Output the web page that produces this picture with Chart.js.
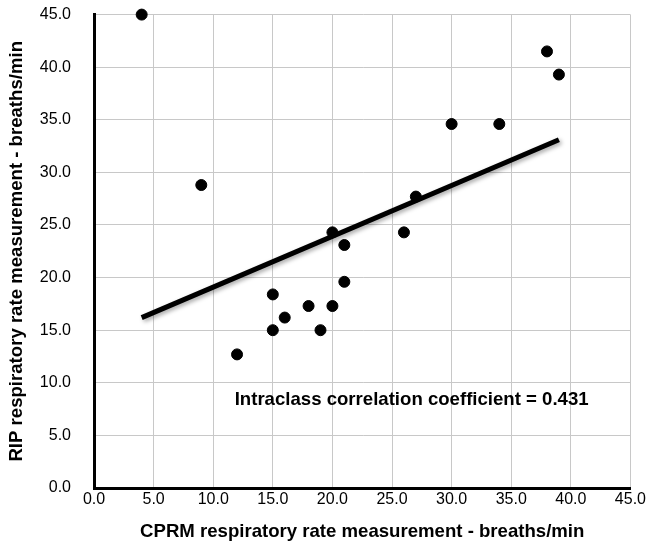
<!DOCTYPE html>
<html>
<head>
<meta charset="utf-8">
<script src="https://cdn.jsdelivr.net/npm/chart.js@4.4.1/dist/chart.umd.min.js"></script>
<style>
  html, body { margin: 0; padding: 0; background: #fff; overflow: hidden; width: 648px; height: 544px; }
  #wrap { position: absolute; left: 0; top: -18px; width: 648px; height: 562px; }
</style>
</head>
<body>
<div id="wrap"><canvas id="icc"></canvas></div>
<script>
// CPRM (x) vs RIP (y), breaths/min
const cprmValues = [4, 9, 12, 15, 15, 16, 18, 19, 20, 20, 21, 21, 26, 27, 30, 34, 38, 39];
const ripValues = [45.0, 28.8, 12.7, 18.4, 15.0, 16.2, 17.3, 15.0, 17.3, 24.3, 23.1, 19.6, 24.3, 27.7, 34.6, 34.6, 41.5, 39.3];
const trendX = [4, 39];
const trendY = [16.2, 33.1];
const axisMin = 0;
const axisMax = 45;
const axisStep = 5;
const annotation = { x: 11.8, y: 8.4, text: 'Intraclass correlation coefficient = 0.431' };

const FONT = '"Liberation Sans", Arial, Helvetica, sans-serif';

const points = cprmValues.map((x, i) => ({ x: x, y: ripValues[i] }));
const trend = trendX.map((x, i) => ({ x: x, y: trendY[i] }));

const shadowLine = {
    id: 'shadowLine',
    beforeDatasetDraw(chart, args) {
        if (args.index !== 1) return;
        const ctx = chart.ctx;
        ctx.save();
        ctx.shadowColor = 'rgba(0,0,0,0.35)';
        ctx.shadowBlur = 4;
        ctx.shadowOffsetX = 2;
        ctx.shadowOffsetY = 2;
    },
    afterDatasetDraw(chart, args) {
        if (args.index !== 1) return;
        chart.ctx.restore();
    }
};

const iccLabel = {
    id: 'iccLabel',
    afterDatasetsDraw(chart) {
        const ctx = chart.ctx;
        const xs = chart.scales.x, ys = chart.scales.y;
        ctx.save();
        ctx.font = 'bold 18.6px ' + FONT;
        ctx.fillStyle = '#000';
        ctx.textAlign = 'left';
        ctx.textBaseline = 'middle';
        ctx.fillText(annotation.text, xs.getPixelForValue(annotation.x), ys.getPixelForValue(annotation.y));
        ctx.restore();
    }
};

const tickFmt = v => Number(v).toFixed(1);

new Chart(document.getElementById('icc').getContext('2d'), {
    type: 'scatter',
    data: {
        datasets: [{
            data: points,
            backgroundColor: '#000',
            borderColor: '#000',
            pointRadius: 5.5,
            pointHoverRadius: 5.5,
            clip: false
        }, {
            type: 'line',
            data: trend,
            borderColor: '#000',
            borderWidth: 5,
            pointRadius: 0,
            fill: false,
            tension: 0
        }]
    },
    options: {
        responsive: true,
        maintainAspectRatio: false,
        animation: false,
        layout: { padding: 0 },
        plugins: { legend: { display: false }, tooltip: { enabled: false } },
        scales: {
            x: {
                type: 'linear',
                min: axisMin,
                max: axisMax,
                afterFit: s => { s.height = 56; },
                ticks: { stepSize: axisStep, callback: tickFmt, color: '#000', padding: 2, font: { family: FONT, size: 16 } },
                grid: { color: '#c8c8c8', lineWidth: 1, drawTicks: false },
                border: { display: true, color: '#000', width: 3 },
                title: {
                    display: true,
                    text: 'CPRM respiratory rate measurement - breaths/min',
                    color: '#000',
                    font: { family: FONT, size: 18.6, weight: 'bold' },
                    padding: { top: 0, bottom: 1 }
                }
            },
            y: {
                type: 'linear',
                min: axisMin,
                max: axisMax,
                afterFit: s => { s.width = 94; },
                ticks: { stepSize: axisStep, callback: tickFmt, color: '#000', padding: 23, font: { family: FONT, size: 16 } },
                grid: { color: '#c8c8c8', lineWidth: 1, drawTicks: false },
                border: { display: true, color: '#000', width: 3 },
                title: {
                    display: true,
                    text: 'RIP respiratory rate measurement - breaths/min',
                    color: '#000',
                    font: { family: FONT, size: 18.6, weight: 'bold' },
                    padding: { top: 6, bottom: 0 }
                }
            }
        }
    },
    plugins: [shadowLine, iccLabel]
});
</script>
</body>
</html>
